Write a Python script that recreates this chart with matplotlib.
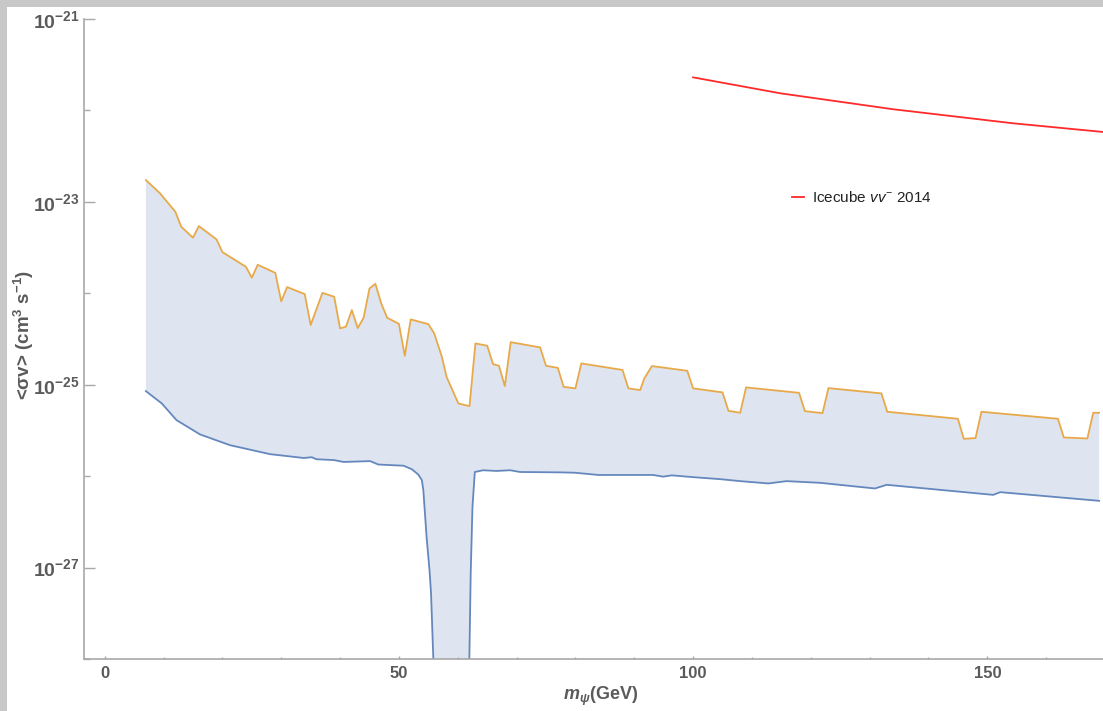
import matplotlib
matplotlib.use("Agg")
import matplotlib.pyplot as plt
from matplotlib.patches import Rectangle
from matplotlib.lines import Line2D
from matplotlib.ticker import FixedLocator, FixedFormatter, NullFormatter
import numpy as np

plt.rcParams['font.family'] = ['Liberation Sans', 'DejaVu Sans']
plt.rcParams['mathtext.fontset'] = 'custom'
plt.rcParams['mathtext.rm'] = 'Liberation Sans'
plt.rcParams['mathtext.it'] = 'Liberation Sans:italic'
plt.rcParams['mathtext.bf'] = 'Liberation Sans:bold'
plt.rcParams['mathtext.bfit'] = 'Liberation Sans:italic:bold'

# upper edge of the band (orange)
m_upper = [7, 9.4, 12, 13, 15, 16, 19, 20, 24, 25, 26, 29, 30, 31, 34, 35, 37, 39, 40, 41,
           42, 43, 44, 45, 46, 47, 48, 50, 51, 52, 55, 56, 57.3, 58.1, 60.1, 62, 63, 65, 66, 67,
           68, 69, 74, 75, 77, 78, 80, 81, 88, 89, 91, 91.7, 93, 99, 100, 105, 106, 108, 109, 118,
           119, 122, 123, 132, 133, 145, 146, 148, 149, 162, 163, 167, 168, 169]
sv_upper = [1.73e-23, 1.24e-23, 7.80e-24, 5.35e-24, 4.05e-24, 5.43e-24, 3.89e-24, 2.82e-24,
            1.95e-24, 1.48e-24, 2.05e-24, 1.67e-24, 8.15e-25, 1.17e-24, 9.79e-25, 4.49e-25,
            1.01e-24, 9.16e-25, 4.13e-25, 4.31e-25, 6.55e-25, 4.16e-25, 5.40e-25, 1.13e-24,
            1.27e-24, 7.74e-25, 5.40e-25, 4.63e-25, 2.07e-25, 5.18e-25, 4.60e-25, 3.64e-25,
            2.02e-25, 1.22e-25, 6.24e-26, 5.83e-26, 2.83e-25, 2.67e-25, 1.68e-25, 1.61e-25,
            9.66e-26, 2.92e-25, 2.56e-25, 1.61e-25, 1.53e-25, 9.48e-26, 9.12e-26, 1.71e-25,
            1.45e-25, 9.12e-26, 8.73e-26, 1.17e-25, 1.60e-25, 1.42e-25, 9.12e-26, 8.24e-26,
            5.18e-26, 4.93e-26, 9.35e-26, 8.15e-26, 5.14e-26, 4.89e-26, 9.18e-26, 8.04e-26,
            5.06e-26, 4.24e-26, 2.56e-26, 2.61e-26, 5.06e-26, 4.24e-26, 2.65e-26, 2.58e-26,
            4.93e-26, 4.93e-26]

# lower edge of the band (blue)
m_lower = [7, 9.7, 12.2, 16.2, 21.3, 28.1, 33.8, 35.2, 36, 38.9, 40.6, 45.1, 46.5, 50.8,
           52.2, 53.3, 53.9, 54.15, 54.7, 55.2, 55.46, 55.85, 56.0, 61.8, 61.97, 62.2, 62.5,
           62.9, 64.3, 66.6, 68.9, 70.6, 77.4, 79.9, 83.9, 93.2, 94.9, 96.4, 100, 104.6, 108,
           112.8, 115.9, 121.6, 130.9, 132.9, 151, 152.2, 169]
sv_lower = [8.51e-26, 6.24e-26, 4.10e-26, 2.86e-26, 2.18e-26, 1.74e-26, 1.58e-26, 1.61e-26,
            1.53e-26, 1.50e-26, 1.43e-26, 1.46e-26, 1.34e-26, 1.30e-26, 1.19e-26, 1.04e-26,
            9.03e-27, 7.03e-27, 2.17e-27, 9.37e-28, 5.21e-28, 1.0e-28, 1e-31, 1e-31, 1.0e-28,
            8.61e-28, 4.61e-27, 1.11e-26, 1.16e-26, 1.14e-26, 1.16e-26, 1.11e-26, 1.10e-26,
            1.09e-26, 1.03e-26, 1.03e-26, 9.87e-27, 1.02e-26, 9.75e-27, 9.27e-27, 8.82e-27,
            8.32e-27, 8.82e-27, 8.45e-27, 7.33e-27, 8.04e-27, 6.24e-27, 6.68e-27, 5.37e-27]

# IceCube limit
m_ice = [100, 114.8, 134, 154.4, 169.7]
sv_ice = [2.30e-22, 1.54e-22, 1.03e-22, 7.23e-23, 5.81e-23]

y_major = [1e-27, 1e-25, 1e-23, 1e-21]
y_major_labels = [r"$\mathbf{10^{-27}}$", r"$\mathbf{10^{-25}}$",
                  r"$\mathbf{10^{-23}}$", r"$\mathbf{10^{-21}}$"]
y_minor = [1e-28, 1e-26, 1e-24, 1e-22]
x_major = [0, 50, 100, 150]
x_minor = [10, 20, 30, 40, 60, 70, 80, 90, 110, 120, 130, 140, 160]

W, H = 1103, 711
fig = plt.figure(figsize=(W / 100, H / 100), dpi=100)
fig.patch.set_facecolor('#c8c8c8')
fig.patches.append(Rectangle((7 / W, 0), 1, 1 - 7 / H, transform=fig.transFigure,
                             facecolor='white', edgecolor='none', zorder=-10))

ax = fig.add_axes([84 / W, 1 - 659 / H, 1 - 84 / W, (659 - 19) / H])
ax.set_facecolor('none')
ax.set_yscale('log')
ax.set_xlim(-3.52, 169.66)
ax.set_ylim(1e-28, 1e-21)

band_x = np.concatenate([m_upper, m_lower[::-1]])
band_y = np.concatenate([sv_upper, sv_lower[::-1]])
ax.fill(band_x, band_y, color='#dfe5f0', lw=0, zorder=1)
ax.plot(m_lower, sv_lower, color='#6488bd', lw=1.3, zorder=2)
ax.plot(m_upper, sv_upper, color='#e8a94a', lw=1.3, zorder=3)
ax.plot(m_ice, sv_ice, color='#ff2a2a', lw=1.3, zorder=3)

for s in ['top', 'right']:
    ax.spines[s].set_visible(False)
for s in ['left', 'bottom']:
    ax.spines[s].set_color('#a8a8a8')
    ax.spines[s].set_linewidth(1.2)

ax.yaxis.set_major_locator(FixedLocator(y_major))
ax.yaxis.set_major_formatter(FixedFormatter(y_major_labels))
ax.yaxis.set_minor_locator(FixedLocator(y_minor))
ax.yaxis.set_minor_formatter(NullFormatter())
ax.xaxis.set_major_locator(FixedLocator(x_major))
ax.xaxis.set_minor_locator(FixedLocator(x_minor))

ax.tick_params(axis='y', which='major', direction='in', length=8, width=1, color='#a8a8a8',
               labelsize=14, labelcolor='#5a5a5a', pad=3)
ax.tick_params(axis='y', which='minor', direction='in', length=4.5, width=1, color='#a8a8a8')
ax.tick_params(axis='x', which='major', direction='in', length=2.5, width=1, color='#a8a8a8',
               labelsize=12, labelcolor='#5a5a5a', pad=5)
ax.tick_params(axis='x', which='minor', direction='in', length=1.5, width=1, color='#a8a8a8')
for lab in ax.get_xticklabels():
    lab.set_fontweight('bold')

fig.text(24 / W, 1 - 335 / H, r"<σv> (cm$^{\mathbf{3}}$ s$^{\mathbf{-1}}$)", rotation=90,
         ha='center', va='center', fontsize=13.5, fontweight='bold', color='#5a5a5a')
fig.text(601 / W, 1 - 696 / H, r"$\mathbfit{m}_{\mathbfit{\psi}}$(GeV)", ha='center',
         va='center', fontsize=13, fontweight='bold', color='#5a5a5a')

handle = Line2D([], [], color='#ff2a2a', lw=1.3)
ax.legend([handle], [r"Icecube $vv^{-}$ 2014"], loc='center left',
          bbox_to_anchor=(792 / W, 1 - 198 / H), bbox_transform=fig.transFigure,
          frameon=False, fontsize=11, handlelength=0.8, handletextpad=0.5,
          borderpad=0, borderaxespad=0, labelcolor='#222222')

fig.savefig('out.png', dpi=100, facecolor=fig.get_facecolor())
